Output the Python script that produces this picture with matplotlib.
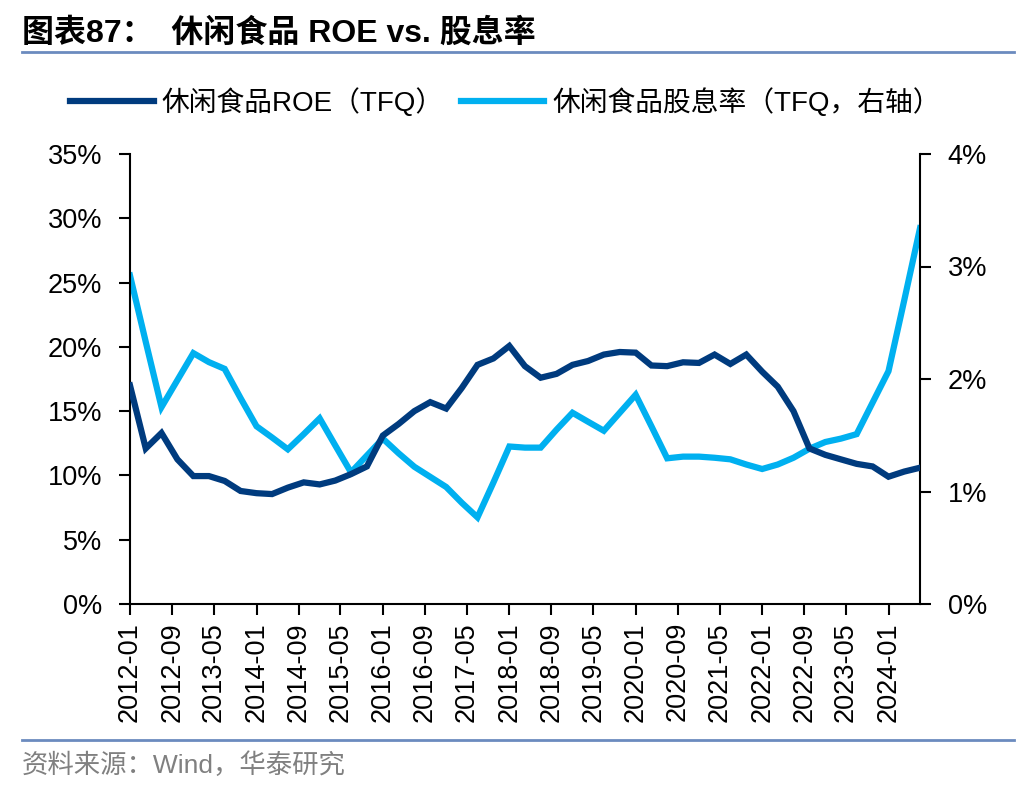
import matplotlib
matplotlib.use("Agg")
import matplotlib.pyplot as plt
import matplotlib.dates as mdates
import numpy as np
import pandas as pd
from matplotlib.ticker import FuncFormatter

plt.rcParams["font.family"] = ["Liberation Sans", "Noto Sans CJK SC"]

# quarterly observations, 2012-01 .. 2024-07
dates = pd.date_range("2012-01-01", periods=51, freq="3MS")
roe = [17.0, 12.1, 13.3, 11.25, 9.95, 9.95, 9.57, 8.79, 8.62, 8.55,
       9.05, 9.46, 9.3, 9.6, 10.1, 10.7, 13.1, 14.0, 15.0, 15.7,
       15.2, 16.8, 18.6, 19.1, 20.07, 18.5, 17.6, 17.9, 18.6, 18.9,
       19.4, 19.6, 19.55, 18.55, 18.5, 18.8, 18.75, 19.4, 18.67, 19.4,
       18.07, 16.9, 15.0, 12.1, 11.6, 11.25, 10.9, 10.7, 9.9, 10.3,
       10.6]
div_yield = [2.92, 2.33, 1.75, 1.99, 2.23, 2.15, 2.09, 1.83, 1.58, 1.48,
             1.375, 1.51, 1.65, 1.41, 1.17, 1.32, 1.47, 1.34, 1.22, 1.13,
             1.04, 0.90, 0.77, 1.08, 1.40, 1.39, 1.39, 1.55, 1.70, 1.62,
             1.54, 1.70, 1.86, 1.58, 1.295, 1.31, 1.31, 1.30, 1.286, 1.24,
             1.20, 1.24, 1.30, 1.38, 1.44, 1.47, 1.51, 1.79, 2.07, 2.70,
             3.34]
tick_dates = pd.date_range("2012-01-01", "2024-01-01", freq="8MS")

title = "图表87：  休闲食品 ROE vs. 股息率"
label_roe = "休闲食品ROE（TFQ）"
label_div = "休闲食品股息率（TFQ，右轴）"
source = "资料来源：Wind，华泰研究"

dark = "#003B7E"
light = "#00B0F0"
fs = 19.5

fig = plt.figure(figsize=(10.36, 7.92), dpi=100)
ax = fig.add_axes([130 / 1036, 1 - 604 / 792, 790 / 1036, 450 / 792])
ax2 = ax.twinx()

l1, = ax.plot(dates, np.array(roe) / 100, color=dark, lw=4.5, solid_joinstyle="miter", zorder=3)
l2, = ax2.plot(dates, np.array(div_yield) / 100, color=light, lw=4.5, solid_joinstyle="miter", zorder=2)
ax.set_zorder(ax2.get_zorder() + 1)
ax.patch.set_visible(False)

ax.set_xlim(dates[0], dates[-1])
ax.set_ylim(0, 0.35)
ax.set_yticks(np.arange(0, 0.351, 0.05))
ax.yaxis.set_major_formatter(FuncFormatter(lambda v, p: f"{v * 100:.0f}%"))
ax2.set_ylim(0, 0.04)
ax2.set_yticks(np.arange(0, 0.041, 0.01))
ax2.yaxis.set_major_formatter(FuncFormatter(lambda v, p: f"{v * 100:.0f}%"))

ax.set_xticks(tick_dates)
ax.xaxis.set_major_formatter(mdates.DateFormatter("%Y-%m"))
for lab in ax.get_xticklabels():
    lab.set_rotation(90)

for a in (ax, ax2):
    a.spines["top"].set_visible(False)
    for s in ("left", "right", "bottom"):
        a.spines[s].set_linewidth(1.5)
    a.tick_params(labelsize=fs, width=1.5, length=8, direction="out", pad=5)
ax.spines["right"].set_visible(False)
ax2.spines["left"].set_visible(False)
ax2.spines["bottom"].set_visible(False)
ax.tick_params(axis="y", pad=12)
ax2.tick_params(axis="y", pad=12)

fig.legend([l1, l2], [label_roe, label_div], loc="center", bbox_to_anchor=(0.488, 0.871),
           ncol=2, frameon=False, fontsize=20, handlelength=3.0, columnspacing=0.6,
           handletextpad=0.3)

fig.text(22 / 1036, 1 - 33 / 792, title, fontsize=23, fontweight="bold", va="center", ha="left")
fig.add_artist(plt.Line2D([22 / 1036, 1014 / 1036], [1 - 52 / 792] * 2, color="#6B8BBF", lw=2))
fig.add_artist(plt.Line2D([22 / 1036, 1014 / 1036], [1 - 740 / 792] * 2, color="#6B8BBF", lw=2))
fig.text(22 / 1036, 1 - 765 / 792, source, fontsize=19, color="#808080", va="center", ha="left")

fig.savefig("out.png", dpi=100)
